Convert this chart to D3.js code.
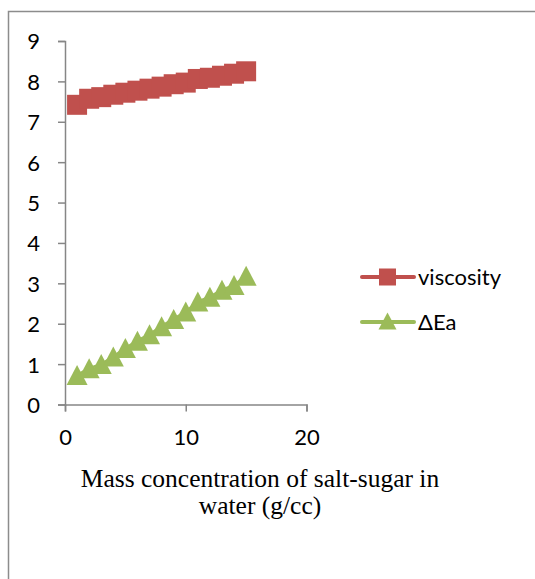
<!DOCTYPE html>
<html>
<head>
<meta charset="utf-8">
<script src="https://cdn.jsdelivr.net/npm/d3@7"></script>
<style>
  html, body { margin: 0; padding: 0; background: #fff; }
  svg { display: block; }
</style>
</head>
<body>
<svg id="chart" width="535" height="579"></svg>
<script>
// ---- data ----
const xValues = [1, 2, 3, 4, 5, 6, 7, 8, 9, 10, 11, 12, 13, 14, 15];
const viscosity = [7.42, 7.57, 7.61, 7.67, 7.72, 7.77, 7.82, 7.87, 7.93, 7.97, 8.06, 8.09, 8.14, 8.19, 8.25];
const deltaEa = [0.73, 0.90, 1.00, 1.19, 1.40, 1.58, 1.74, 1.94, 2.12, 2.30, 2.55, 2.67, 2.84, 2.96, 3.19];
const seriesNames = ["viscosity", "\u0394Ea"];
const xTicks = [0, 10, 20];
const yTicks = [0, 1, 2, 3, 4, 5, 6, 7, 8, 9];
const xTitleLines = ["Mass concentration of salt-sugar in", "water (g/cc)"];

// ---- layout ----
const svg = d3.select("#chart");
const axisColor = "#868686";
const red = "#C0504D", green = "#9BBB59";
const tickFont = "Lato, 'Open Sans', sans-serif";

// outer frame (extends beyond the visible area to right and bottom)
svg.append("path")
  .attr("d", "M8.5,600 L8.5,11.5 L540,11.5")
  .attr("fill", "none").attr("stroke", "#8c8c8c").attr("stroke-width", 1.5);

const x = d3.scaleLinear().domain([0, 20]).range([65, 306.5]);
const y = d3.scaleLinear().domain([0, 9]).range([404.5, 41]);

// y axis
const yAxis = svg.append("g").attr("transform", "translate(65,0)")
  .call(d3.axisLeft(y).tickValues(yTicks).tickSize(7).tickPadding(18).tickFormat(d3.format("d")));
// x axis
const xAxis = svg.append("g").attr("transform", "translate(0,404.5)")
  .call(d3.axisBottom(x).tickValues(xTicks).tickSize(7).tickPadding(17).tickFormat(d3.format("d")));

[yAxis, xAxis].forEach(g => {
  g.select(".domain").attr("stroke", axisColor).attr("stroke-width", 1.5);
  g.selectAll(".tick line").attr("stroke", axisColor).attr("stroke-width", 1.5);
  g.selectAll(".tick text").attr("fill", "#000").style("font-family", tickFont).style("font-size", "22px");
});
yAxis.selectAll(".tick text").attr("dy", "0.36em");
xAxis.selectAll(".tick text").attr("dy", "0.75em");

// series
const vData = xValues.map((d, i) => ({ x: d, y: viscosity[i] }));
const eData = xValues.map((d, i) => ({ x: d, y: deltaEa[i] }));
const line = d3.line().x(d => x(d.x)).y(d => y(d.y));

svg.append("path").datum(vData).attr("d", line)
  .attr("fill", "none").attr("stroke", red).attr("stroke-width", 2.5);
svg.append("path").datum(eData).attr("d", line)
  .attr("fill", "none").attr("stroke", green).attr("stroke-width", 2.5);

const sq = 20;
svg.append("g").selectAll("rect").data(vData).join("rect")
  .attr("x", d => x(d.x) - sq / 2).attr("y", d => y(d.y) - sq / 2)
  .attr("width", sq).attr("height", sq).attr("fill", red);

const tri = (cx, cy, w, h) => `M${cx},${cy - h / 2} L${cx + w / 2},${cy + h / 2} L${cx - w / 2},${cy + h / 2} Z`;
svg.append("g").selectAll("path").data(eData).join("path")
  .attr("d", d => tri(x(d.x), y(d.y), 21, 20)).attr("fill", green);

// legend
const legend = svg.append("g");
const legY = [277, 322];
const legColors = [red, green];
legY.forEach((ly, i) => {
  legend.append("line").attr("x1", 362).attr("x2", 414).attr("y1", ly).attr("y2", ly)
    .attr("stroke", legColors[i]).attr("stroke-width", 4).attr("stroke-linecap", "round");
  if (i === 0) {
    legend.append("rect").attr("x", 379).attr("y", ly - 8.5).attr("width", 17).attr("height", 17).attr("fill", red);
  } else {
    legend.append("path").attr("d", tri(387.5, ly - 1, 18, 17)).attr("fill", green);
  }
  legend.append("text").attr("x", 418).attr("y", ly).attr("dy", "0.35em")
    .style("font-family", tickFont).style("font-size", "22px").attr("fill", "#000")
    .text(seriesNames[i]);
});

// x-axis title
const titleX = [260, 260];
const titleY = [487, 514];
xTitleLines.forEach((t, i) => {
  svg.append("text").attr("x", titleX[i]).attr("y", titleY[i]).attr("text-anchor", "middle")
    .style("font-family", "'Liberation Serif', 'Times New Roman', serif").style("font-size", "25.5px")
    .attr("fill", "#000").text(t);
});
</script>
</body>
</html>
